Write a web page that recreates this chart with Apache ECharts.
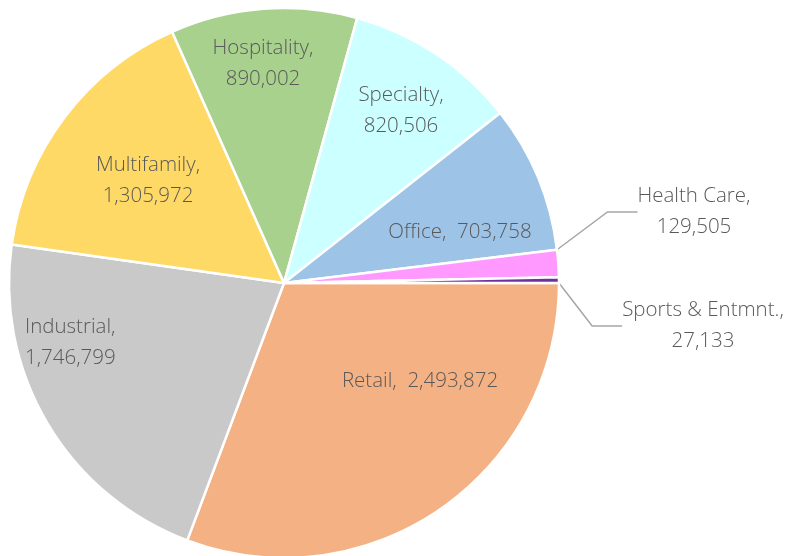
<!DOCTYPE html>
<html>
<head>
<meta charset="utf-8">
<script src="https://cdn.jsdelivr.net/npm/echarts@6/dist/echarts.min.js"></script>
<style>
  html, body { margin: 0; padding: 0; background: #ffffff; }
  #chart { width: 790px; height: 556px; }
</style>
</head>
<body>
<div id="chart"></div>
<script>
// Square footage by property sector
const categories = ['Retail', 'Industrial', 'Multifamily', 'Hospitality', 'Specialty', 'Office', 'Health Care', 'Sports & Entmnt.'];
const values = [2493872, 1746799, 1305972, 890002, 820506, 703758, 129505, 27133];
const colors = ['#F4B183', '#C9C9C9', '#FFD966', '#A9D18E', '#CCFFFF', '#9DC3E6', '#FF99FF', '#7030A0'];

// Label text: some sectors put the value on one line, others on two
const singleLine = { 'Retail': true, 'Office': true };

// Label anchor points (centre of each label block)
const labelPos = [
  [420, 381], [25, 343], [148, 181], [263, 64],
  [401, 111], [460, 232], [694, 212], [703, 326]
];
const leaderLines = {
  6: [[559, 264], [583, 222], [593, 222]],
  7: [[560, 283], [592, 346], [603, 346]]
};

const fmt = v => v.toLocaleString('en-US');

const chart = echarts.init(document.getElementById('chart'), null, { renderer: 'canvas' });
chart.setOption({
  animation: false,
  series: [{
    type: 'pie',
    center: [284, 283],
    radius: [0, 275],
    startAngle: 0,
    clockwise: true,
    avoidLabelOverlap: false,
    itemStyle: { borderColor: '#ffffff', borderWidth: 2.5 },
    label: {
      show: true,
      position: 'inside',
      color: '#595959',
      fontFamily: 'Open Sans',
      fontWeight: 300,
      fontSize: 20.5,
      lineHeight: 31,
      align: 'center',
      formatter: p => singleLine[p.name]
        ? p.name + ',  ' + fmt(p.value)
        : p.name + ',\n' + fmt(p.value)
    },
    labelLine: { show: true, lineStyle: { color: '#A6A6A6', width: 1.5 } },
    labelLayout: function (params) {
      const i = params.dataIndex;
      const pos = labelPos[i];
      const out = {
        x: pos[0],
        y: pos[1],
        align: i === 1 ? 'left' : 'center',
        verticalAlign: 'middle'
      };
      if (leaderLines[i]) {
        out.labelLinePoints = leaderLines[i];
      }
      return out;
    },
    data: categories.map((c, i) => ({
      name: c,
      value: values[i],
      itemStyle: { color: colors[i] },
      labelLine: { show: !!leaderLines[i] }
    }))
  }]
});
</script>
</body>
</html>
